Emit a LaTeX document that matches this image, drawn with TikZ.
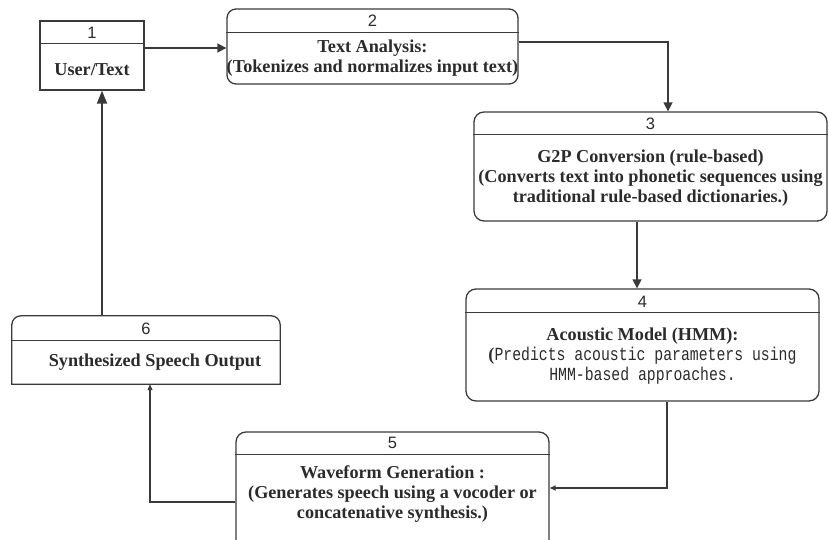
\documentclass[tikz,border=0pt]{standalone}
\usepackage{fontspec}
\setmainfont{Liberation Serif}
\newfontfamily\numfont{Liberation Sans}
\newfontfamily\codefont[FakeStretch=0.8]{Liberation Mono}
\usetikzlibrary{arrows.meta}
\definecolor{ink}{HTML}{2B2B2B}
\definecolor{edge}{HTML}{3A3A3A}
\newcommand{\codeline}{\mdseries\codefont\fontsize{18.5}{20}\selectfont}
\tikzset{
  stage/.style={draw=edge, line width=1.3pt, inner sep=0pt, minimum width=#1},
  stage/.default=100,
  numlbl/.style={font=\numfont\fontsize{16.5}{18}\selectfont, text=ink, inner sep=0pt},
  bodytxt/.style={font=\bfseries\fontsize{18.2}{20}\selectfont, text=ink, align=center, inner sep=0pt},
  divider/.style={draw=edge, line width=1.3pt},
  link/.style={draw=edge, line width=1.5pt},
  tipA/.style={-{Triangle[length=9pt,width=9pt]}},
  tipS/.style={-{Triangle[length=6pt,width=5pt]}},
  tipB/.style={-{Triangle[length=13pt,width=10pt]}},
}
\begin{document}
\begin{tikzpicture}[x=1pt,y=-1pt]
\useasboundingbox (0,0) rectangle (829,540);
\clip (0,0) rectangle (829,540);

% 1: user input
\node[stage=104, minimum height=69] (b1) at (92,55.5) {};
\draw[divider] ([yshift=-23pt]b1.north west) -- ([yshift=-23pt]b1.north east);
\node[numlbl] (h1) at (92,33) {1};
\node[bodytxt] (t1) at (92,70) {User/Text};

% 2: text analysis
\node[stage=291, minimum height=75, rounded corners=9pt] (b2) at (372.5,46.5) {};
\draw[divider] ([yshift=-24pt]b2.north west) -- ([yshift=-24pt]b2.north east);
\node[numlbl] (h2) at (372.5,21) {2};
\node[bodytxt] (t2) at (372.5,58) {Text Analysis:\\(Tokenizes and normalizes input text)};

% 3: grapheme-to-phoneme
\node[stage=353, minimum height=109, rounded corners=10pt] (b3) at (650.5,166.5) {};
\draw[divider] ([yshift=-23pt]b3.north west) -- ([yshift=-23pt]b3.north east);
\node[numlbl] (h3) at (650.5,124) {3};
\node[bodytxt] (t3) at (650.5,178) {G2P Conversion (rule-based)\\(Converts text into phonetic sequences using\\traditional rule-based dictionaries.)};

% 4: acoustic model
\node[stage=353, minimum height=112, rounded corners=10pt] (b4) at (642.5,345) {};
\draw[divider] ([yshift=-24pt]b4.north west) -- ([yshift=-24pt]b4.north east);
\node[numlbl] (h4) at (642.5,302) {4};
\node[bodytxt] (t4) at (642.5,356) {Acoustic Model (HMM):\\(\codeline Predicts acoustic parameters using\\\codeline HMM-based approaches.};

% 5: waveform generation (runs past the lower edge)
\node[stage=313, minimum height=128, rounded corners=10pt] (b5) at (392.5,496) {};
\draw[divider] ([yshift=-23pt]b5.north west) -- ([yshift=-23pt]b5.north east);
\node[numlbl] (h5) at (392.5,443) {5};
\node[bodytxt] (t5) at (392.5,494) {Waveform Generation :\\(Generates speech using a vocoder or\\concatenative synthesis.)};

% 6: output, rounded on top only
\node[minimum width=268, minimum height=68, inner sep=0pt] (b6) at (146,350) {};
\draw[edge, line width=1.3pt] (b6.south west) [rounded corners=9pt] -- (b6.north west) -- (b6.north east) [sharp corners] -- (b6.south east) -- cycle;
\draw[divider] ([yshift=-25pt]b6.north west) -- ([yshift=-25pt]b6.north east);
\node[numlbl] (h6) at (146,329) {6};
\node[bodytxt] (t6) at (155,362) {Synthesized Speech Output};

% connectors
\coordinate (p12) at ([yshift=7.5pt]b1.east);
\draw[link, tipA] (p12) -- (p12 -| b2.west);

\coordinate (p23) at ([yshift=4.5pt]b2.east);
\coordinate (q23) at ([xshift=17.5pt]b3.north);
\draw[link, tipA] (p23) -| (q23);

\coordinate (p34) at ([xshift=-13.5pt]b3.south);
\draw[link, tipA] (p34) -- (p34 |- b4.north);

\coordinate (p45) at ([xshift=24.5pt]b4.south);
\coordinate (q45) at ([yshift=8pt]b5.east);
\draw[link, line width=1.2pt, tipS] (p45) |- (q45);

\coordinate (p56) at ([yshift=-6pt]b5.west);
\coordinate (q56) at ([xshift=4pt]b6.south);
\draw[link, line width=1.2pt, tipS] (p56) -| (q56);

\coordinate (p61) at ([xshift=-44pt]b6.north);
\draw[link, line width=1.8pt, tipB] (p61) -- (p61 |- b1.south);
\end{tikzpicture}
\end{document}
